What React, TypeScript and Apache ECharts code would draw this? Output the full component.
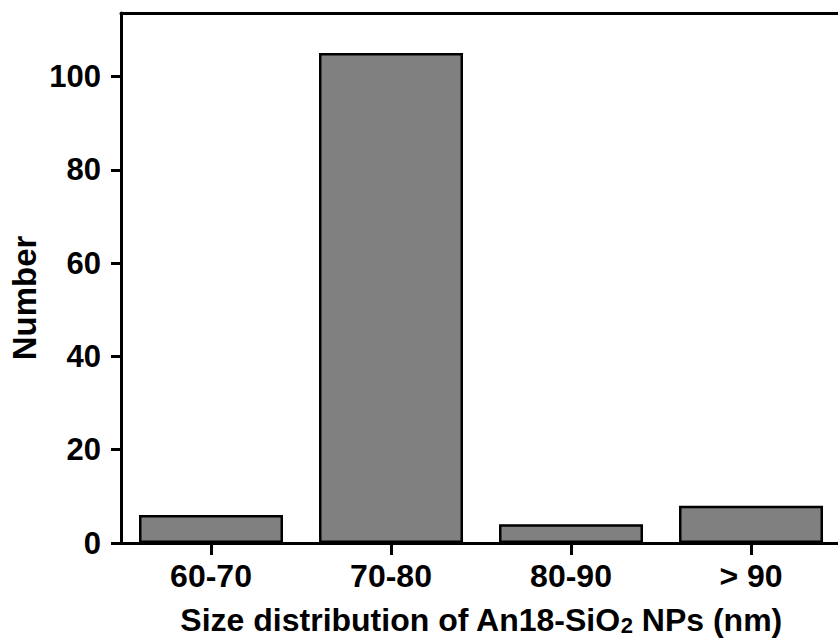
import React, { useEffect, useRef } from "react";
import * as echarts from "echarts";

const categories = ["60-70", "70-80", "80-90", "> 90"];
const counts = [6, 105, 4, 8];
const yTicks = [0, 20, 40, 60, 80, 100];
const xTitleParts = ["Size distribution of An18-SiO", "2", " NPs (nm)"];
const yTitle = "Number";

const FONT = "'Liberation Sans', Arial, sans-serif";

export default function App() {
  const ref = useRef<HTMLDivElement>(null);
  useEffect(() => {
    if (!ref.current) return;
    const chart = echarts.init(ref.current, undefined, { renderer: "svg" });
    chart.setOption({
      animation: false,
      backgroundColor: "#ffffff",
      grid: {
        left: 121,
        top: 13,
        width: 720,
        height: 530,
      },
      xAxis: [
        {
          type: "category",
          data: categories,
          axisLine: { lineStyle: { color: "#000", width: 3 } },
          axisTick: { show: true, alignWithLabel: true, length: 12, lineStyle: { color: "#000", width: 3 } },
          axisLabel: {
            color: "#000",
            fontFamily: FONT,
            fontWeight: "bold",
            fontSize: 32,
            margin: 17,
          },
          splitLine: { show: false },
        },
        {
          type: "category",
          data: categories,
          position: "top",
          axisLine: { show: true, lineStyle: { color: "#000", width: 3 } },
          axisTick: { show: false },
          axisLabel: { show: false },
          splitLine: { show: false },
        },
      ],
      yAxis: {
        type: "value",
        min: 0,
        max: 113.6,
        interval: 20,
        axisLine: { show: true, lineStyle: { color: "#000", width: 3 } },
        axisTick: { show: true, length: 10, customValues: yTicks, lineStyle: { color: "#000", width: 3 } },
        axisLabel: {
          color: "#000",
          fontFamily: FONT,
          fontWeight: "bold",
          fontSize: 31,
          margin: 20,
          customValues: yTicks,
        },
        splitLine: { show: false },
      },
      graphic: [
        {
          type: "text",
          x: 481,
          y: 620,
          style: {
            text: `{a|${xTitleParts[0]}}{s|${xTitleParts[1]}}{a|${xTitleParts[2]}}`,
            align: "center",
            verticalAlign: "middle",
            rich: {
              a: { fontFamily: FONT, fontWeight: "bold", fontSize: 32, fill: "#000" },
              s: { fontFamily: FONT, fontWeight: "bold", fontSize: 22, fill: "#000", padding: [10, 0, 0, 0] },
            },
          },
        },
        {
          type: "text",
          x: 24,
          y: 298,
          rotation: Math.PI / 2,
          style: {
            text: yTitle,
            align: "center",
            verticalAlign: "middle",
            fontFamily: FONT,
            fontWeight: "bold",
            fontSize: 33,
            fill: "#000",
          },
        },
      ],
      series: [
        {
          type: "bar",
          data: counts,
          barWidth: "80%",
          itemStyle: { color: "#808080", borderColor: "#000", borderWidth: 2.5 },
        },
      ],
    });
    return () => chart.dispose();
  }, []);
  return (
    <div style={{ position: "fixed", left: 0, top: 0, width: 838, height: 639, overflow: "hidden", background: "#fff" }}>
      <div ref={ref} style={{ width: 850, height: 639 }} />
    </div>
  );
}
